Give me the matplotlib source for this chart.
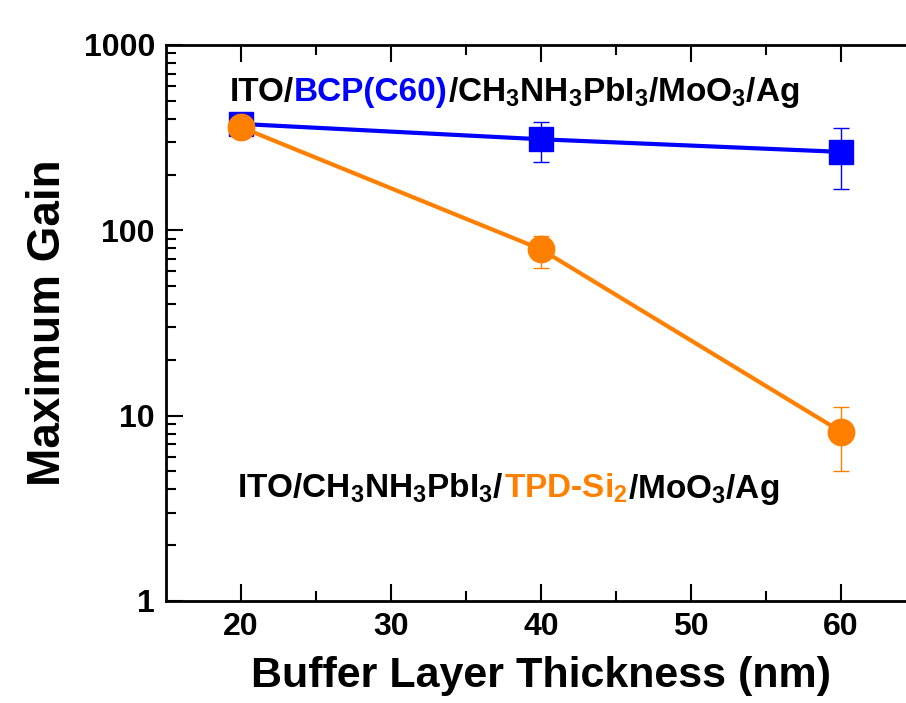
import numpy as np
import matplotlib.pyplot as plt
from matplotlib import font_manager

# font setup: narrow bold sans if available
names = {f.name for f in font_manager.fontManager.ttflist}
fam = 'Liberation Sans Narrow' if 'Liberation Sans Narrow' in names else 'Liberation Sans'
plt.rcParams['font.family'] = [fam, 'DejaVu Sans']
plt.rcParams['font.weight'] = 'bold'
plt.rcParams['mathtext.fontset'] = 'custom'
plt.rcParams['mathtext.rm'] = fam + ':bold'
plt.rcParams['mathtext.it'] = fam + ':bold'
plt.rcParams['mathtext.bf'] = fam + ':bold'
plt.rcParams['mathtext.default'] = 'regular'

# data
thickness = [20, 40, 60]
gain_bcp = [375, 310, 265]
err_bcp_lo = [15, 75, 98]
err_bcp_hi = [15, 75, 92]
gain_tpd = [360, 79, 8.2]
err_tpd_lo = [10, 16, 3.2]
err_tpd_hi = [10, 14, 3.0]

blue = '#0000FF'
orange = '#FF8000'

fig = plt.figure(figsize=(9.06, 7.03), dpi=100)
ax = fig.add_axes([166/906, 1 - 601/703, (916 - 166)/906, (601 - 45)/703])

ax.errorbar(thickness, gain_bcp, yerr=[err_bcp_lo, err_bcp_hi], color=blue,
            lw=3, marker='s', ms=17, ecolor=blue, elinewidth=1, capsize=6,
            capthick=1, zorder=3)
ax.errorbar(thickness, gain_tpd, yerr=[err_tpd_lo, err_tpd_hi], color=orange,
            lw=3, marker='o', ms=19, ecolor=orange, elinewidth=1, capsize=6,
            capthick=1, zorder=4)

ax.set_yscale('log')
ax.set_ylim(1, 1000)
ax.set_xlim(15, 65)
ax.set_xticks([20, 30, 40, 50, 60])
ax.set_xticks([25, 35, 45, 55], minor=True)
ax.set_yticks([1, 10, 100, 1000])
ax.set_yticklabels(['1', '10', '100', '1000'])

for s in ['left', 'bottom', 'top']:
    ax.spines[s].set_linewidth(2)
ax.spines['right'].set_visible(False)
ax.tick_params(which='both', direction='in', top=True, right=False, width=1.5)
ax.tick_params(which='major', length=12, labelsize=23, pad=8)
ax.tick_params(which='minor', length=7)

ax.set_xlabel('Buffer Layer Thickness (nm)', fontsize=31, fontweight='bold', labelpad=10)
ax.set_ylabel('Maximum Gain', fontsize=33, fontweight='bold', labelpad=10)


def colored_line(x, y, parts, size):
    # draw a row of text pieces, each starting where the previous ended
    fig.canvas.draw()
    r = fig.canvas.get_renderer()
    px, py = x, y
    for txt, col in parts:
        t = fig.text(px / 906, 1 - py / 703, txt, color=col, fontsize=size,
                     fontweight='bold', va='baseline', ha='left')
        bb = t.get_window_extent(renderer=r)
        px = bb.x1


colored_line(230, 101, [('ITO/', 'black'), ('BCP(C60)', blue),
                        (r'/CH$_3$NH$_3$PbI$_3$/MoO$_3$/Ag', 'black')], 24)
colored_line(237, 498, [(r'ITO/CH$_3$NH$_3$PbI$_3$/', 'black'), (r'TPD-Si$_2$', orange),
                        (r'/MoO$_3$/Ag', 'black')], 24)

fig.savefig('out.png', dpi=100)
